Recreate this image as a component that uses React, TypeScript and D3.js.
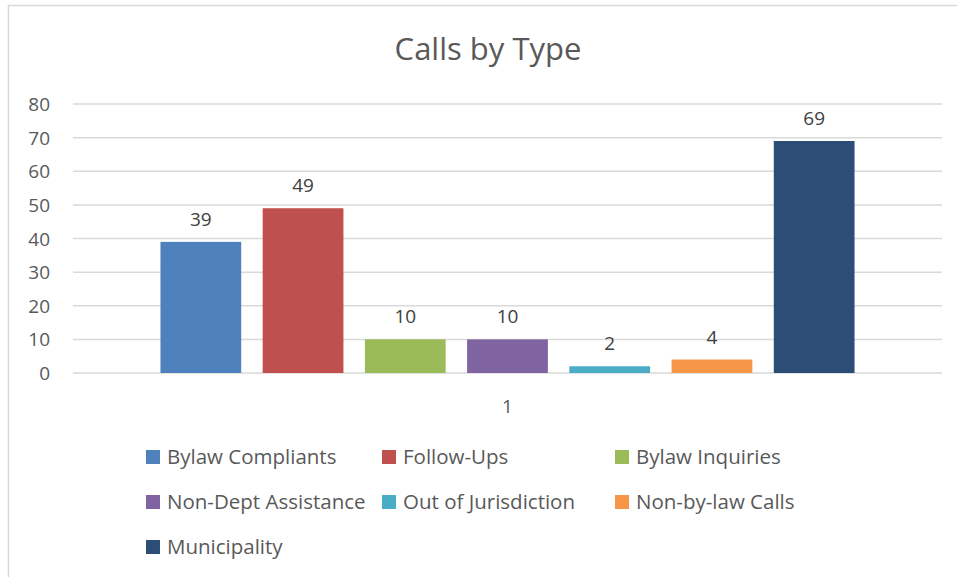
import * as d3 from 'd3'
import React from 'react'

const seriesNames = [
  'Bylaw Compliants',
  'Follow-Ups',
  'Bylaw Inquiries',
  'Non-Dept Assistance',
  'Out of Jurisdiction',
  'Non-by-law Calls',
  'Municipality',
]
const seriesValues = [39, 49, 10, 10, 2, 4, 69]
const seriesColors = ['#4F81BD', '#C0504D', '#9BBB59', '#8064A2', '#4BACC6', '#F79646', '#2C4D75']
const categories = ['1']
const yTicks = [0, 10, 20, 30, 40, 50, 60, 70, 80]

const FONT = '"Open Sans", Lato, sans-serif'
const W = 957
const H = 577

const PLOT = { left: 73, right: 942, top: 104, bottom: 373 }

export default function App() {
  const y = d3.scaleLinear().domain([0, 80]).range([PLOT.bottom, PLOT.top])
  const x0 = d3
    .scaleBand()
    .domain(categories)
    .range([PLOT.left, PLOT.right])
    .paddingInner(0)
    .paddingOuter(0.126)
  const x1 = d3
    .scaleBand()
    .domain(seriesNames)
    .range([0, x0.bandwidth()])
    .paddingInner(0.21)
    .paddingOuter(0)

  // legend layout: 3 columns, rows of 45px
  const legendCols = [146, 382, 615]
  const legendRows = [457, 502, 547]

  return (
    <svg
      width={W}
      height={H}
      style={{ position: 'absolute', left: 0, top: 0, background: '#fff' }}
    >
      <rect x={8.5} y={5.5} width={980} height={600} fill="#fff" stroke="#D9D9D9" strokeWidth={1.5} />
      <text x={488} y={60} textAnchor="middle" fontFamily={FONT} fontSize={31} fill="#595959">
        Calls by Type
      </text>

      <g className="grid">
        {yTicks.map(t => (
          <line
            key={t}
            x1={PLOT.left}
            x2={PLOT.right}
            y1={y(t)}
            y2={y(t)}
            stroke="#D9D9D9"
            strokeWidth={1.5}
          />
        ))}
      </g>
      <g className="y-axis">
        {yTicks.map(t => (
          <text
            key={t}
            x={50}
            y={y(t) + 7}
            textAnchor="end"
            fontFamily={FONT}
            fontSize={19}
            fill="#595959"
          >
            {t}
          </text>
        ))}
      </g>

      {categories.map(c => (
        <g key={c} transform={`translate(${x0(c)},0)`}>
          {seriesNames.map((s, i) => (
            <g key={s}>
              <rect
                x={x1(s)}
                y={y(seriesValues[i])}
                width={x1.bandwidth()}
                height={y(0) - y(seriesValues[i])}
                fill={seriesColors[i]}
              />
              <text
                x={(x1(s) as number) + x1.bandwidth() / 2}
                y={y(seriesValues[i]) - 16}
                textAnchor="middle"
                fontFamily={FONT}
                fontSize={19}
                fill="#404040"
              >
                {seriesValues[i]}
              </text>
            </g>
          ))}
          <text
            x={x0.bandwidth() / 2}
            y={413}
            textAnchor="middle"
            fontFamily={FONT}
            fontSize={19}
            fill="#595959"
          >
            {c}
          </text>
        </g>
      ))}

      <g className="legend">
        {seriesNames.map((s, i) => {
          const lx = legendCols[i % 3]
          const ly = legendRows[Math.floor(i / 3)]
          return (
            <g key={s} transform={`translate(${lx},${ly})`}>
              <rect x={0} y={-7} width={14} height={14} fill={seriesColors[i]} />
              <text x={21} y={7} fontFamily={FONT} fontSize={20.5} fill="#595959">
                {s}
              </text>
            </g>
          )
        })}
      </g>
    </svg>
  )
}
